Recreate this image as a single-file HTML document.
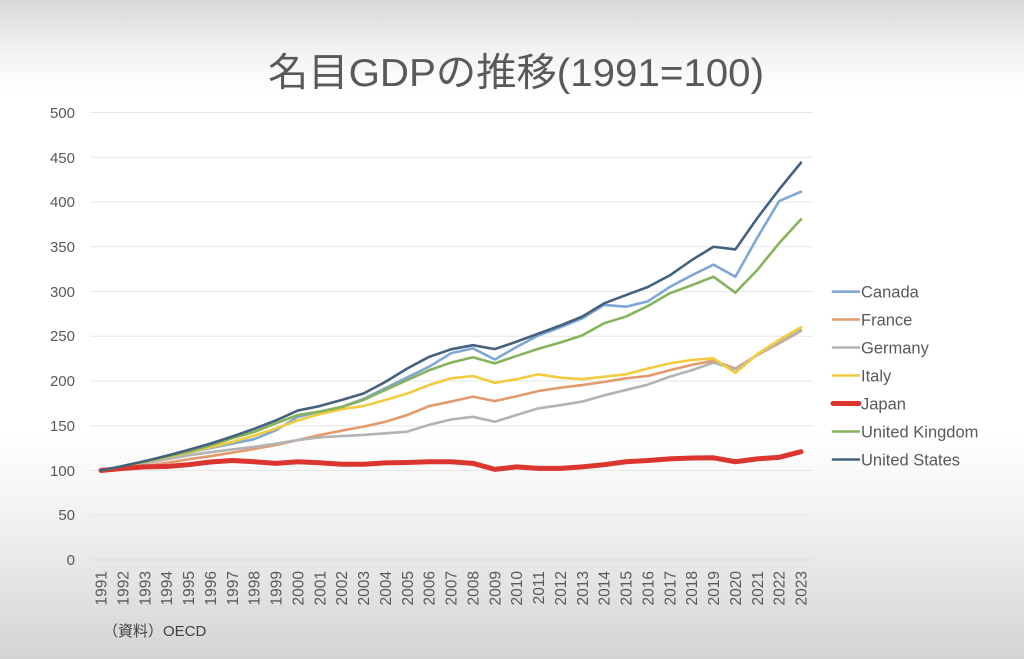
<!DOCTYPE html>
<html><head><meta charset="utf-8">
<style>
html,body{margin:0;padding:0;}
body{width:1024px;height:659px;overflow:hidden;
background:linear-gradient(to bottom,#d8d8d8 0%,#f3f3f3 8%,#ffffff 14%,#ffffff 66%,#f2f2f2 78%,#e2e2e2 90%,#d4d4d4 100%);}
svg{position:absolute;left:0;top:0;}
text{font-family:"Liberation Sans","Noto Sans CJK JP",sans-serif;}
</style></head>
<body>
<svg width="1024" height="659" viewBox="0 0 1024 659" xmlns="http://www.w3.org/2000/svg">
<text x="516" y="86" text-anchor="middle" font-size="39" fill="#595959" textLength="496" lengthAdjust="spacingAndGlyphs">名目GDPの推移(1991=100)</text>
<g stroke="#e6e6e6" stroke-width="1">
<line x1="90" x2="813" y1="112.5" y2="112.5"/>
<line x1="90" x2="813" y1="157.25" y2="157.25"/>
<line x1="90" x2="813" y1="202" y2="202"/>
<line x1="90" x2="813" y1="246.75" y2="246.75"/>
<line x1="90" x2="813" y1="291.5" y2="291.5"/>
<line x1="90" x2="813" y1="336.25" y2="336.25"/>
<line x1="90" x2="813" y1="381" y2="381"/>
<line x1="90" x2="813" y1="425.75" y2="425.75"/>
<line x1="90" x2="813" y1="470.5" y2="470.5"/>
<line x1="90" x2="813" y1="515.25" y2="515.25"/>
<line x1="90" x2="813" y1="560" y2="560" stroke="#dcdcdc"/>
</g>
<g font-size="15" fill="#595959" text-anchor="end">
<text x="75" y="118">500</text>
<text x="75" y="163">450</text>
<text x="75" y="207">400</text>
<text x="75" y="252">350</text>
<text x="75" y="297">300</text>
<text x="75" y="341">250</text>
<text x="75" y="386">200</text>
<text x="75" y="431">150</text>
<text x="75" y="476">100</text>
<text x="75" y="520">50</text>
<text x="75" y="565">0</text>
</g>
<g font-size="15.5" fill="#595959" text-anchor="end">
<text transform="translate(106.5,571) rotate(-90)">1991</text>
<text transform="translate(128.4,571) rotate(-90)">1992</text>
<text transform="translate(150.3,571) rotate(-90)">1993</text>
<text transform="translate(172.1,571) rotate(-90)">1994</text>
<text transform="translate(194,571) rotate(-90)">1995</text>
<text transform="translate(215.9,571) rotate(-90)">1996</text>
<text transform="translate(237.8,571) rotate(-90)">1997</text>
<text transform="translate(259.6,571) rotate(-90)">1998</text>
<text transform="translate(281.5,571) rotate(-90)">1999</text>
<text transform="translate(303.4,571) rotate(-90)">2000</text>
<text transform="translate(325.3,571) rotate(-90)">2001</text>
<text transform="translate(347.1,571) rotate(-90)">2002</text>
<text transform="translate(369,571) rotate(-90)">2003</text>
<text transform="translate(390.9,571) rotate(-90)">2004</text>
<text transform="translate(412.8,571) rotate(-90)">2005</text>
<text transform="translate(434.6,571) rotate(-90)">2006</text>
<text transform="translate(456.5,571) rotate(-90)">2007</text>
<text transform="translate(478.4,571) rotate(-90)">2008</text>
<text transform="translate(500.3,571) rotate(-90)">2009</text>
<text transform="translate(522.1,571) rotate(-90)">2010</text>
<text transform="translate(544,571) rotate(-90)">2011</text>
<text transform="translate(565.9,571) rotate(-90)">2012</text>
<text transform="translate(587.8,571) rotate(-90)">2013</text>
<text transform="translate(609.6,571) rotate(-90)">2014</text>
<text transform="translate(631.5,571) rotate(-90)">2015</text>
<text transform="translate(653.4,571) rotate(-90)">2016</text>
<text transform="translate(675.3,571) rotate(-90)">2017</text>
<text transform="translate(697.1,571) rotate(-90)">2018</text>
<text transform="translate(719,571) rotate(-90)">2019</text>
<text transform="translate(740.9,571) rotate(-90)">2020</text>
<text transform="translate(762.8,571) rotate(-90)">2021</text>
<text transform="translate(784.6,571) rotate(-90)">2022</text>
<text transform="translate(806.5,571) rotate(-90)">2023</text>
</g>
<g transform="translate(101,560) scale(21.875,-0.895)" fill="none" stroke-linejoin="round" stroke-linecap="round">
<polyline vector-effect="non-scaling-stroke" stroke="#7fa7d3" stroke-width="2.6" points="0,100 1,104.5 2,109 3,114.5 4,120 5,125 6,130 7,135 8,145 9,160 10,165.7 11,171 12,180 13,192 14,204 15,216 16,231 17,236.5 18,224 19,238 20,251 21,260 22,270 23,285 24,283 25,289 26,305 27,318 28,330 29,316.5 30,360 31,401 32,411.5"/>
<polyline vector-effect="non-scaling-stroke" stroke="#e39a6c" stroke-width="2.6" points="0,100 1,102.5 2,105 3,108.5 4,112.5 5,116 6,120 7,124 8,128.5 9,134 10,139.7 11,144.5 12,149 13,154.5 14,162 15,172 16,177 17,182.5 18,177.6 19,183 20,188.8 21,192.5 22,195.5 23,199 24,203 25,205.6 26,212 27,218 28,222.7 29,214 30,229 31,242 32,256"/>
<polyline vector-effect="non-scaling-stroke" stroke="#b3b3b3" stroke-width="2.6" points="0,100 1,104 2,108 3,112.5 4,117 5,120.5 6,123.5 7,126.5 8,130 9,134 10,137 11,138.5 12,139.7 13,141.5 14,143.4 15,151 16,157 17,160 18,154.5 19,162 20,169.5 21,173 22,177 23,184 24,190 25,196 26,204.8 27,212 28,220.5 29,213 30,229 31,243 32,257"/>
<polyline vector-effect="non-scaling-stroke" stroke="#f2cc3e" stroke-width="2.6" points="0,100 1,104.5 2,109.5 3,115 4,120 5,126 6,132 7,139 8,147 9,156 10,163 11,168.5 12,172 13,178.8 14,186 15,195.5 16,203 17,205.6 18,198 19,202 20,207.5 21,203.7 22,202 23,204.8 24,207.5 25,214 26,219.7 27,223.5 28,225.3 29,209 30,230 31,246 32,260"/>
<polyline vector-effect="non-scaling-stroke" stroke="#dc3530" stroke-width="5" points="0,100 1,102.4 2,104 3,104.5 4,106.5 5,109.5 6,111.2 7,109.8 8,108 9,109.8 10,108.7 11,107 12,107 13,108.5 14,109 15,109.8 16,109.8 17,108 18,101.3 19,104 20,102.4 21,102.4 22,104 23,106.5 24,109.8 25,111.2 26,113 27,114 28,114.2 29,109.8 30,113 31,114.7 32,121"/>
<polyline vector-effect="non-scaling-stroke" stroke="#86b35b" stroke-width="2.6" points="0,100 1,105 2,110 3,115.5 4,121 5,128 6,136 7,143 8,152.7 9,162 10,165.7 11,171 12,178.8 13,190 14,201 15,212 16,220.5 17,226.5 18,219.7 19,228 20,236 21,243 22,251 23,264.5 24,272 25,283.8 26,298 27,307 28,316.5 29,298.7 30,324 31,354 32,380.7"/>
<polyline vector-effect="non-scaling-stroke" stroke="#44617f" stroke-width="2.6" points="0,100 1,105 2,110.5 3,116.5 4,123 5,130 6,138 7,146.5 8,156 9,167 10,172 11,178.8 12,186 13,199 14,214 15,227 16,235.4 17,240 18,235.6 19,244 20,253 21,262 22,272 23,286.8 24,296 25,305 26,318 27,335 28,350 29,347 30,382 31,414 32,444"/>
</g>
<g stroke-linecap="round">
<line x1="833" x2="859" y1="291.7" y2="291.7" stroke="#7fa7d3" stroke-width="2.6"/>
<line x1="833" x2="859" y1="319.5" y2="319.5" stroke="#e39a6c" stroke-width="2.6"/>
<line x1="833" x2="859" y1="347.5" y2="347.5" stroke="#b3b3b3" stroke-width="2.6"/>
<line x1="833" x2="859" y1="375.5" y2="375.5" stroke="#f2cc3e" stroke-width="2.6"/>
<line x1="833" x2="859" y1="403.5" y2="403.5" stroke="#dc3530" stroke-width="5"/>
<line x1="833" x2="859" y1="431.5" y2="431.5" stroke="#86b35b" stroke-width="2.6"/>
<line x1="833" x2="859" y1="459.5" y2="459.5" stroke="#44617f" stroke-width="2.6"/>
</g>
<g font-size="16.5" fill="#595959">
<text x="861" y="297.5">Canada</text>
<text x="861" y="325.3">France</text>
<text x="861" y="353.3">Germany</text>
<text x="861" y="381.3">Italy</text>
<text x="861" y="409.3">Japan</text>
<text x="861" y="437.3">United Kingdom</text>
<text x="861" y="465.3">United States</text>
</g>
<text x="103" y="636" font-size="15" fill="#404040">（資料）OECD</text>
</svg>
</body></html>
